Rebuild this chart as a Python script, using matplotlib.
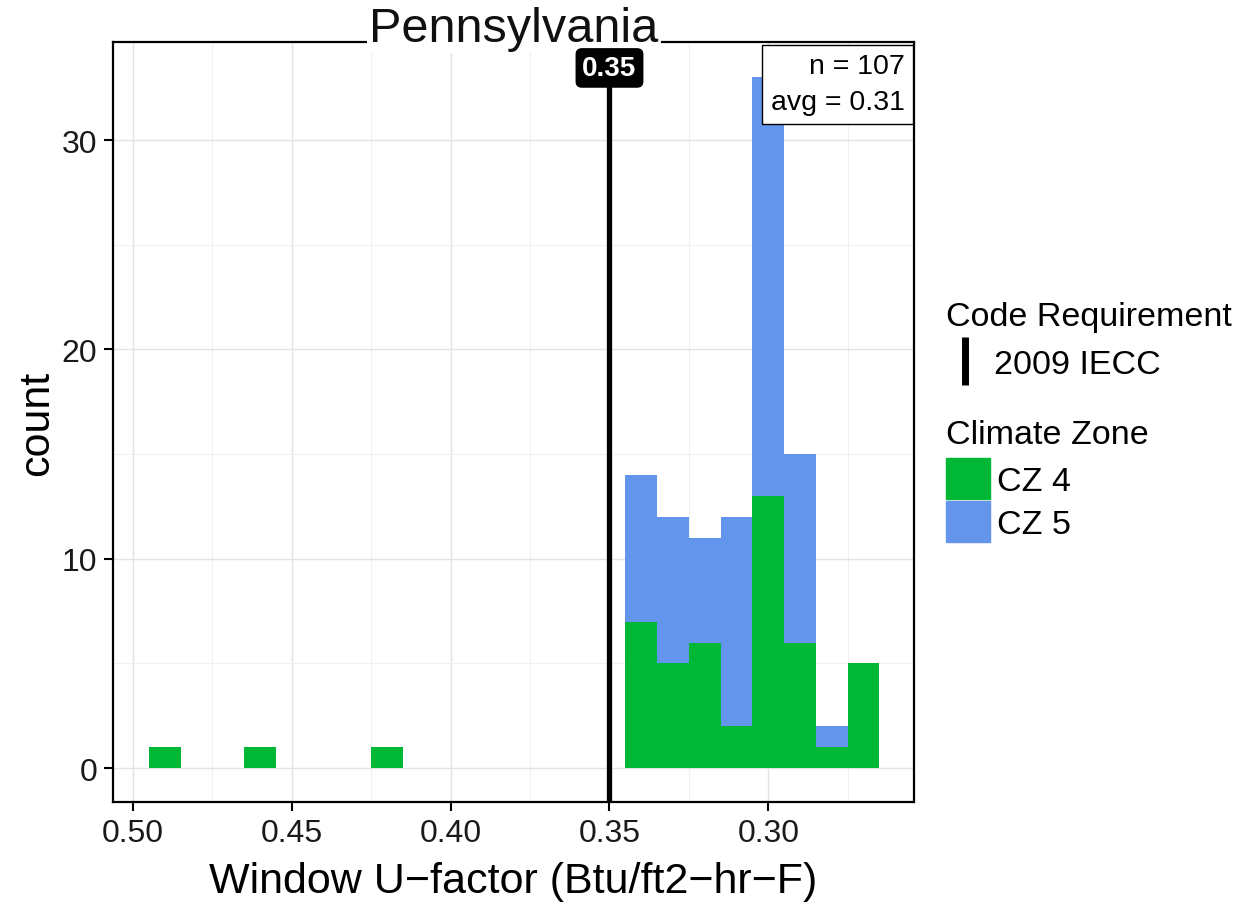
import matplotlib
matplotlib.use("Agg")

import matplotlib.pyplot as plt
from matplotlib.lines import Line2D
from matplotlib.patches import Patch

plt.rcParams["font.family"] = ["Liberation Sans", "DejaVu Sans"]

# histogram bins (bin centre, width 0.01) and counts per climate zone
bin_centers = [0.49, 0.48, 0.47, 0.46, 0.45, 0.44, 0.43, 0.42, 0.41, 0.40,
               0.39, 0.38, 0.37, 0.36, 0.35, 0.34, 0.33, 0.32, 0.31, 0.30,
               0.29, 0.28, 0.27]
cz4_counts = [1, 0, 0, 1, 0, 0, 0, 1, 0, 0,
              0, 0, 0, 0, 0, 7, 5, 6, 2, 13,
              6, 1, 5]
cz5_counts = [0, 0, 0, 0, 0, 0, 0, 0, 0, 0,
              0, 0, 0, 0, 0, 7, 7, 5, 10, 20,
              9, 1, 0]
bin_width = 0.01

code_value = 0.35
code_label = "2009 IECC"
n_total = 107
avg_value = 0.31

x_ticks = [0.50, 0.45, 0.40, 0.35, 0.30]
y_ticks = [0, 10, 20, 30]

GREEN = "#00B835"
BLUE = "#6495ED"

fig = plt.figure(figsize=(12.45, 9.03), dpi=100)
ax = fig.add_axes([0.0908, 0.1107, 0.6434, 0.8417])

ylo, yhi = -1.62, 34.69
label_y = 33.45

ax.bar(bin_centers, cz4_counts, width=bin_width, color=GREEN, linewidth=0, zorder=3)
ax.bar(bin_centers, cz5_counts, width=bin_width, bottom=cz4_counts,
       color=BLUE, linewidth=0, zorder=3)

# code line stops at its label, not through the title
ax.axvline(code_value, ymax=(label_y - ylo) / (yhi - ylo),
           color="black", linewidth=3.8, zorder=4)
ax.text(code_value, label_y, f"{code_value:.2f}", ha="center", va="center",
        fontsize=20, fontweight="bold", color="white", zorder=6,
        bbox=dict(boxstyle="round,pad=0.22,rounding_size=0.2", fc="black", ec="black"))

ax.text(0.988, 0.985, f"n = {n_total}\navg = {avg_value:.2f}",
        transform=ax.transAxes, ha="right", va="top", fontsize=20.5,
        linespacing=1.5, zorder=6,
        bbox=dict(boxstyle="square,pad=0.3", fc="white", ec="black", lw=1.0))

ax.set_xlim(0.5063, 0.2541)
ax.set_ylim(ylo, yhi)
ax.set_xticks(x_ticks)
ax.set_xticklabels([f"{t:.2f}" for t in x_ticks])
ax.set_yticks(y_ticks)
ax.set_xticks([0.475, 0.425, 0.375, 0.325, 0.275], minor=True)
ax.set_yticks([5, 15, 25], minor=True)
ax.tick_params(which="major", direction="out", length=6.5, width=1.5,
               labelsize=23, colors="black", labelcolor="#1a1a1a", pad=5)
ax.tick_params(which="minor", length=0)
ax.grid(which="major", color="#e3e3e3", linewidth=1.0, zorder=0)
ax.grid(which="minor", color="#f0f0f0", linewidth=0.8, zorder=0)
ax.set_axisbelow(True)
for s in ax.spines.values():
    s.set_linewidth(1.6)
    s.set_color("black")

# fixed y so matplotlib does not push the title above the frame;
# white box hides the top border behind the text like the original
ax.set_title("Pennsylvania", fontsize=35, y=1.0, pad=1, color="#111111",
             zorder=5, bbox=dict(boxstyle="square,pad=0.05", fc="white", ec="none"))
ax.set_xlabel("Window U\u2212factor (Btu/ft2\u2212hr\u2212F)", fontsize=31, labelpad=9)
ax.set_ylabel("count", fontsize=31, labelpad=3)

code_handle = Line2D([], [], color="black", marker="|", linestyle="none",
                     markersize=34, markeredgewidth=5)
leg1 = fig.legend([code_handle], [code_label], title="Code Requirement",
                  loc="upper left", bbox_to_anchor=(0.760, 0.666),
                  frameon=False, fontsize=24.5, title_fontsize=24.5,
                  alignment="left", handlelength=1.1, handletextpad=0.3,
                  borderpad=0, borderaxespad=0)

zone_handles = [Patch(color=GREEN), Patch(color=BLUE)]
leg2 = fig.legend(zone_handles, ["CZ 4", "CZ 5"], title="Climate Zone",
                  loc="upper left", bbox_to_anchor=(0.760, 0.535),
                  frameon=False, fontsize=24.5, title_fontsize=24.5,
                  alignment="left", handlelength=1.3, handleheight=1.5,
                  handletextpad=0.2, labelspacing=0.05,
                  borderpad=0, borderaxespad=0)
leg2._legend_box.sep = 5.5  # gap between title and keys

fig.savefig("out.png", dpi=100, facecolor="white")
